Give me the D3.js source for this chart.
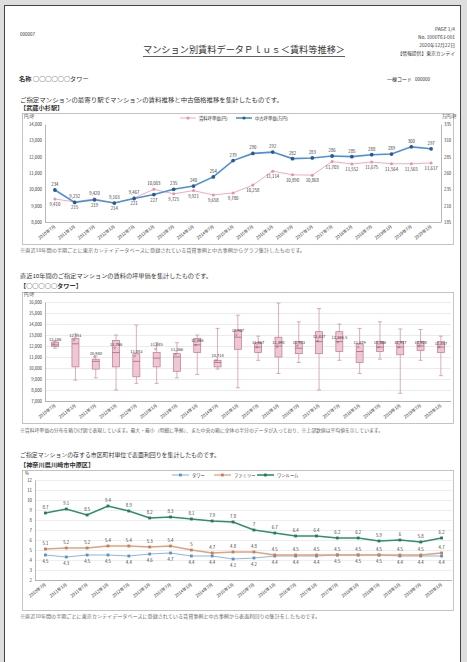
<!DOCTYPE html>
<html>
<head>
<meta charset="utf-8">
<script src="https://cdn.jsdelivr.net/npm/d3@7"></script>
<style>
  body { margin: 0; background: #dedede; }
  svg text { font-family: "Noto Sans CJK JP", "Noto Sans", sans-serif; fill: #333; }
</style>
</head>
<body>
<div id="page"></div>
<script>
// ---- data ----
var months = ["2010年7月","2011年1月","2011年7月","2012年1月","2012年7月","2013年1月","2013年7月","2014年1月","2014年7月","2015年1月",
              "2015年7月","2016年1月","2016年7月","2017年1月","2017年7月","2018年1月","2018年7月","2019年1月","2019年7月","2020年1月"]

// chart 1 : station area
var rentPerTsubo = [9410, 9232, 9420, 9163, 9467, 10003, 9725, 9921, 9658, 9780, 10258, 11114, 10890, 10868, 11703, 11552, 11675, 11564, 11565, 11617]
var usedPerTsubo = [234, 215, 219, 214, 221, 227, 235, 240, 254, 279, 290, 292, 282, 283, 286, 285, 288, 289, 300, 297]
var leftTicks1 = [8000, 9000, 10000, 11000, 12000, 13000, 14000]
var rightTicks1 = [185, 210, 235, 260, 285, 310, 335]
var legend1 = ["賃料坪単価(円)", "中古坪単価(万円)"]

// chart 2 : box plot of the building
var boxMax  = [12450, 13100, 11100, 13000, 13900, 12300, 12300, 13000, 13600, 14800, 12900, 15900, 14200, 15400, 14000, 13600, 14200, 13550, 13500, 12900]
var boxQ3   = [12350, 12700, 10800, 12500, 11300, 11400, 11300, 12700, 10700, 13450, 12300, 12800, 12400, 13300, 13300, 12200, 12400, 12400, 12400, 12400]
var boxMed  = [12100, 12200, 10600, 11400, 10600, 10900, 11000, 12100, 10500, 12800, 11900, 12000, 11800, 12400, 12400, 11500, 11900, 11900, 12000, 11900]
var boxQ1   = [11950, 10100,  9900, 10100,  9200, 10100,  9700, 11400, 10100, 11700, 11400, 11000, 11300, 11300, 11500, 10500, 11500, 11200, 11600, 11400]
var boxMin  = [11800,  8900,  9100,  8000,  8600,  8600,  9100,  9400,  9900,  8200, 10700,  9500, 10500,  8000, 10700,  9500, 10800,  7700, 10700,  9300]
var boxMean = [12186, 12551, 10940, 11766, 11083, 11685, 11266, 12066, 10714, 12987, 11867, 11898, 11923, 12437, 12366.5, 11879, 11866, 11917, 11928, 11857]
var ticks2 = [7000, 8000, 9000, 10000, 11000, 12000, 13000, 14000, 15000, 16000]

// chart 3 : gross yield by ward
var tower   = [4.5, 4.3, 4.5, 4.5, 4.4, 4.6, 4.7, 4.4, 4.4, 4.1, 4.2, 4.4, 4.4, 4.4, 4.5, 4.5, 4.5, 4.4, 4.4, 4.4]
var family  = [5.1, 5.2, 5.2, 5.4, 5.4, 5.3, 5.4, 5.0, 4.7, 4.8, 4.8, 4.5, 4.5, 4.5, 4.5, 4.5, 4.5, 4.5, 4.5, 4.7]
var oneRoom = [8.7, 9.1, 8.5, 9.4, 8.9, 8.2, 8.3, 8.1, 7.9, 7.8, 7.0, 6.7, 6.4, 6.4, 6.2, 6.2, 5.9, 6.0, 5.8, 6.2]
var ticks3 = [2, 3, 4, 5, 6, 7, 8, 9, 10, 11, 12]
var legend3 = ["タワー", "ファミリー", "ワンルーム"]

var W = 467, H = 662
var svg = d3.select('#page').append('svg')
  .attr('width', W)
  .attr('height', H)

// page sheet
svg.append('rect')
  .attr('x', 4.5).attr('y', 5.5)
  .attr('width', 456).attr('height', 670)
  .attr('fill', '#fff')
  .attr('stroke', '#444')
  .attr('stroke-width', 1)

function txt(x, y, s, size, opts){
  opts = opts || {}
  var t = svg.append('text')
    .attr('x', x).attr('y', y)
    .attr('font-size', size)
    .attr('text-anchor', opts.anchor || 'start')
    .text(s)
  if (opts.len) t.attr('textLength', opts.len).attr('lengthAdjust', 'spacingAndGlyphs')
  if (opts.bold) t.attr('font-weight', 'bold')
  if (opts.fill) t.style('fill', opts.fill)
  return t
}

// ---- header ----
txt(20, 36, "000007", 4.5)
txt(455, 31, "PAGE 1/4", 4.8, {anchor:'end'})
txt(455, 39, "No. 1000763-001", 4.8, {anchor:'end'})
txt(455, 47, "2020年12月22日", 4.8, {anchor:'end'})
txt(455, 55, "【情報提供】東京カンテイ", 4.8, {anchor:'end'})
txt(143, 53, "マンション別賃料データＰｌｕｓ＜賃料等推移＞", 9.2, {len:202})
svg.append('line')
  .attr('x1', 143).attr('x2', 345).attr('y1', 56.5).attr('y2', 56.5)
  .attr('stroke', '#333').attr('stroke-width', 0.8)
txt(19, 81, "名称", 6.2, {bold:true})
txt(33, 81, "○○○○○○タワー", 6.2)
txt(387, 81, "一棟コード", 5)
txt(415, 81, "000000", 4.5)

// ---- shared bits ----
function frame(y0, y1){
  svg.append('rect')
    .attr('x', 22.5).attr('y', y0 + 0.5)
    .attr('width', 431).attr('height', y1 - y0)
    .attr('fill', 'none')
    .attr('stroke', '#b5b5b5')
    .attr('stroke-width', 0.8)
}

function monthLabels(x, yBase){
  var g = svg.append('g')
  g.selectAll('text')
    .data(months)
    .enter()
    .append('text')
    .attr('font-size', 4.3)
    .attr('text-anchor', 'end')
    .attr('transform', function(d){ return 'translate(' + (x(d) + x.bandwidth()/2 + 1) + ',' + yBase + ') rotate(-38)' })
    .text(function(d){ return d })
}

function leftAxis(scale, xPos, values, fmt){
  var g = svg.append('g')
    .attr('transform', 'translate(' + xPos + ',0)')
    .call(d3.axisLeft(scale).tickValues(values).tickSize(0).tickPadding(3).tickFormat(fmt))
  g.select('.domain').attr('stroke', '#999').attr('stroke-width', 0.7)
  g.selectAll('text').attr('font-size', 4.3).style('fill', '#333')
  return g
}

// =================== chart 1 ===================
txt(20, 102, "ご指定マンションの最寄り駅でマンションの賃料推移と中古価格推移を集計したものです。", 6, {len:263})
txt(20, 110, "【武蔵小杉駅】", 6.2, {bold:true})
frame(113, 244)

var x1 = d3.scaleBand().domain(months).range([45, 441])
var y1 = d3.scaleLinear().domain([8000, 14000]).range([222, 124])
var y1r = d3.scaleLinear().domain([185, 335]).range([222, 124])
var cx1 = function(i){ return x1(months[i]) + x1.bandwidth()/2 }

txt(24, 118, "円/坪", 4.3)
txt(442, 118, "万円/坪", 4.3)
leftAxis(y1, 45, leftTicks1, d3.format(","))
var r1 = svg.append('g')
  .attr('transform', 'translate(441,0)')
  .call(d3.axisRight(y1r).tickValues(rightTicks1).tickSize(0).tickPadding(3))
r1.select('.domain').attr('stroke', '#999').attr('stroke-width', 0.7)
r1.selectAll('text').attr('font-size', 4.3).style('fill', '#333')
svg.append('line')
  .attr('x1', 45).attr('x2', 441).attr('y1', 222.5).attr('y2', 222.5)
  .attr('stroke', '#999').attr('stroke-width', 0.7)
monthLabels(x1, 227)

var pinkLine = d3.line().x(function(d, i){ return cx1(i) }).y(function(d){ return y1(d) })
var blueLine = d3.line().x(function(d, i){ return cx1(i) }).y(function(d){ return y1r(d) })
svg.append('path').datum(rentPerTsubo)
  .attr('d', pinkLine).attr('fill', 'none')
  .attr('stroke', '#f2a9c2').attr('stroke-width', 1)
svg.append('path').datum(usedPerTsubo)
  .attr('d', blueLine).attr('fill', 'none')
  .attr('stroke', '#4d8fd6').attr('stroke-width', 1.6)
svg.append('g').selectAll('circle')
  .data(rentPerTsubo).enter().append('circle')
  .attr('cx', function(d, i){ return cx1(i) })
  .attr('cy', function(d){ return y1(d) })
  .attr('r', 1.5).attr('fill', '#ea8fb0')
svg.append('g').selectAll('circle')
  .data(usedPerTsubo).enter().append('circle')
  .attr('cx', function(d, i){ return cx1(i) })
  .attr('cy', function(d){ return y1r(d) })
  .attr('r', 1.9).attr('fill', '#265a96')

// labels go above for the upper line, below for the lower one
svg.append('g').selectAll('text')
  .data(rentPerTsubo).enter().append('text')
  .attr('font-size', 4.3).attr('text-anchor', 'middle')
  .attr('x', function(d, i){ return cx1(i) })
  .attr('y', function(d, i){ return y1(d) < y1r(usedPerTsubo[i]) ? y1(d) - 4 : y1(d) + 7 })
  .text(function(d){ return d3.format(",")(d) })
svg.append('g').selectAll('text')
  .data(usedPerTsubo).enter().append('text')
  .attr('font-size', 4.3).attr('text-anchor', 'middle')
  .attr('x', function(d, i){ return cx1(i) })
  .attr('y', function(d, i){ return y1(rentPerTsubo[i]) < y1r(d) ? y1r(d) + 7 : y1r(d) - 4 })
  .text(function(d){ return d })

// legend 1
var lg1 = [{x:180, color:'#f2a9c2', dot:'#ea8fb0', w:1, label:legend1[0]},
           {x:236, color:'#4d8fd6', dot:'#265a96', w:1.6, label:legend1[1]}]
lg1.forEach(function(d){
  svg.append('line').attr('x1', d.x).attr('x2', d.x + 16).attr('y1', 118).attr('y2', 118)
    .attr('stroke', d.color).attr('stroke-width', d.w)
  svg.append('circle').attr('cx', d.x + 8).attr('cy', 118).attr('r', 1.6).attr('fill', d.dot)
  txt(d.x + 19, 119.6, d.label, 4.3)
})

txt(20, 252, "※直近10年間の半期ごとに東京カンテイデータベースに登録されている賃貸事例と中古事例からグラフ集計したものです。", 4.3, {len:285, fill:'#666'})

// =================== chart 2 ===================
txt(20, 278, "直近10年間のご指定マンションの賃料の坪単価を集計したものです。", 5.4, {len:192})
txt(20, 288, "【○○○○○タワー】", 6.2, {bold:true})
frame(292, 423)

var x2 = d3.scaleBand().domain(months).range([45, 451])
var y2 = d3.scaleLinear().domain([7000, 16000]).range([401, 302])
var cx2 = function(i){ return x2(months[i]) + x2.bandwidth()/2 }

txt(24, 296, "円/坪", 4.3)
svg.append('g').selectAll('line')
  .data(ticks2).enter().append('line')
  .attr('x1', 45).attr('x2', 451)
  .attr('y1', function(d){ return y2(d) + 0.5 }).attr('y2', function(d){ return y2(d) + 0.5 })
  .attr('stroke', '#e2e2e2').attr('stroke-width', 0.7)
leftAxis(y2, 45, ticks2, d3.format(","))
svg.append('line')
  .attr('x1', 45).attr('x2', 451).attr('y1', 401.5).attr('y2', 401.5)
  .attr('stroke', '#999').attr('stroke-width', 0.7)
monthLabels(x2, 406)

var bw = 7
var boxes = svg.append('g').selectAll('g')
  .data(months).enter().append('g')
boxes.append('line')
  .attr('x1', function(d, i){ return cx2(i) }).attr('x2', function(d, i){ return cx2(i) })
  .attr('y1', function(d, i){ return y2(boxMax[i]) }).attr('y2', function(d, i){ return y2(boxMin[i]) })
  .attr('stroke', '#c98aa0').attr('stroke-width', 0.7)
boxes.append('line')
  .attr('x1', function(d, i){ return cx2(i) - 2 }).attr('x2', function(d, i){ return cx2(i) + 2 })
  .attr('y1', function(d, i){ return y2(boxMax[i]) }).attr('y2', function(d, i){ return y2(boxMax[i]) })
  .attr('stroke', '#c98aa0').attr('stroke-width', 0.7)
boxes.append('line')
  .attr('x1', function(d, i){ return cx2(i) - 2 }).attr('x2', function(d, i){ return cx2(i) + 2 })
  .attr('y1', function(d, i){ return y2(boxMin[i]) }).attr('y2', function(d, i){ return y2(boxMin[i]) })
  .attr('stroke', '#c98aa0').attr('stroke-width', 0.7)
boxes.append('rect')
  .attr('x', function(d, i){ return cx2(i) - bw/2 })
  .attr('y', function(d, i){ return y2(boxQ3[i]) })
  .attr('width', bw)
  .attr('height', function(d, i){ return y2(boxQ1[i]) - y2(boxQ3[i]) })
  .attr('fill', '#f0c6d4').attr('stroke', '#b9788f').attr('stroke-width', 0.7)
boxes.append('line')
  .attr('x1', function(d, i){ return cx2(i) - bw/2 }).attr('x2', function(d, i){ return cx2(i) + bw/2 })
  .attr('y1', function(d, i){ return y2(boxMed[i]) }).attr('y2', function(d, i){ return y2(boxMed[i]) })
  .attr('stroke', '#9c5c73').attr('stroke-width', 0.7)
boxes.append('text')
  .attr('x', function(d, i){ return cx2(i) - 1.5 }).attr('y', function(d, i){ return y2(boxMean[i]) + 1.6 })
  .attr('font-size', 4).attr('text-anchor', 'middle')
  .style('fill', '#7a3d52')
  .text("×")
boxes.append('text')
  .attr('x', function(d, i){ return cx2(i) }).attr('y', function(d, i){ return y2(boxMean[i]) - 3 })
  .attr('font-size', 4).attr('text-anchor', 'middle')
  .text(function(d, i){ return d3.format(",")(boxMean[i]) })

txt(20, 432, "※賃料坪単価の分布を箱ひげ図で表現しています。最大・最小（明細に準拠）、また中央の箱に全体の半分のデータが入っており、※上部数値は平均値を示しています。", 4.3, {len:363, fill:'#666'})

// =================== chart 3 ===================
txt(20, 457, "ご指定マンションの存する市区町村単位で表面利回りを集計したものです。", 5.6, {len:200})
txt(20, 467, "【神奈川県川崎市中原区】", 6.2, {bold:true})
frame(470, 610)

var x3 = d3.scaleBand().domain(months).range([35, 452])
var y3 = d3.scaleLinear().domain([2, 12]).range([580, 480])
var cx3 = function(i){ return x3(months[i]) + x3.bandwidth()/2 }

txt(25, 475, "%", 4.3)
svg.append('g').selectAll('line')
  .data(ticks3).enter().append('line')
  .attr('x1', 35).attr('x2', 452)
  .attr('y1', function(d){ return y3(d) + 0.5 }).attr('y2', function(d){ return y3(d) + 0.5 })
  .attr('stroke', '#e6e6e6').attr('stroke-width', 0.7)
leftAxis(y3, 35, ticks3, d3.format("d"))
svg.append('line')
  .attr('x1', 35).attr('x2', 452).attr('y1', 580.5).attr('y2', 580.5)
  .attr('stroke', '#999').attr('stroke-width', 0.7)
monthLabels(x3, 585)

var series3 = [
  {vals: tower,   color: '#8fb6dc', dot: '#5d8fc4', w: 1.1, dy: 8},
  {vals: family,  color: '#dfa27f', dot: '#c97c55', w: 1.3, dy: -4},
  {vals: oneRoom, color: '#2f8f6c', dot: '#237a5a', w: 1.6, dy: -4}
]
var line3 = d3.line().x(function(d, i){ return cx3(i) }).y(function(d){ return y3(d) })
series3.forEach(function(s){
  svg.append('path').datum(s.vals)
    .attr('d', line3).attr('fill', 'none')
    .attr('stroke', s.color).attr('stroke-width', s.w)
  svg.append('g').selectAll('rect')
    .data(s.vals).enter().append('rect')
    .attr('x', function(d, i){ return cx3(i) - 1.4 })
    .attr('y', function(d){ return y3(d) - 1.4 })
    .attr('width', 2.8).attr('height', 2.8)
    .attr('fill', s.dot)
  svg.append('g').selectAll('text')
    .data(s.vals).enter().append('text')
    .attr('font-size', 4.3).attr('text-anchor', 'middle')
    .attr('x', function(d, i){ return cx3(i) })
    .attr('y', function(d){ return y3(d) + s.dy })
    .text(function(d){ return d3.format("")(d) })
})

// legend 3
var lg3x = [172, 214, 257]
series3.forEach(function(s, k){
  var lx = lg3x[k]
  svg.append('line').attr('x1', lx).attr('x2', lx + 17).attr('y1', 475).attr('y2', 475)
    .attr('stroke', s.color).attr('stroke-width', s.w)
  svg.append('rect').attr('x', lx + 7).attr('y', 473.6).attr('width', 2.8).attr('height', 2.8).attr('fill', s.dot)
  txt(lx + 20, 476.6, legend3[k], 4.3)
})

txt(20, 618, "※直近10年間の半期ごとに東京カンテイデータベースに登録されている賃貸事例と中古事例から表面利回りの集計をしたものです。", 4.3, {len:300, fill:'#666'})
</script>
</body>
</html>
